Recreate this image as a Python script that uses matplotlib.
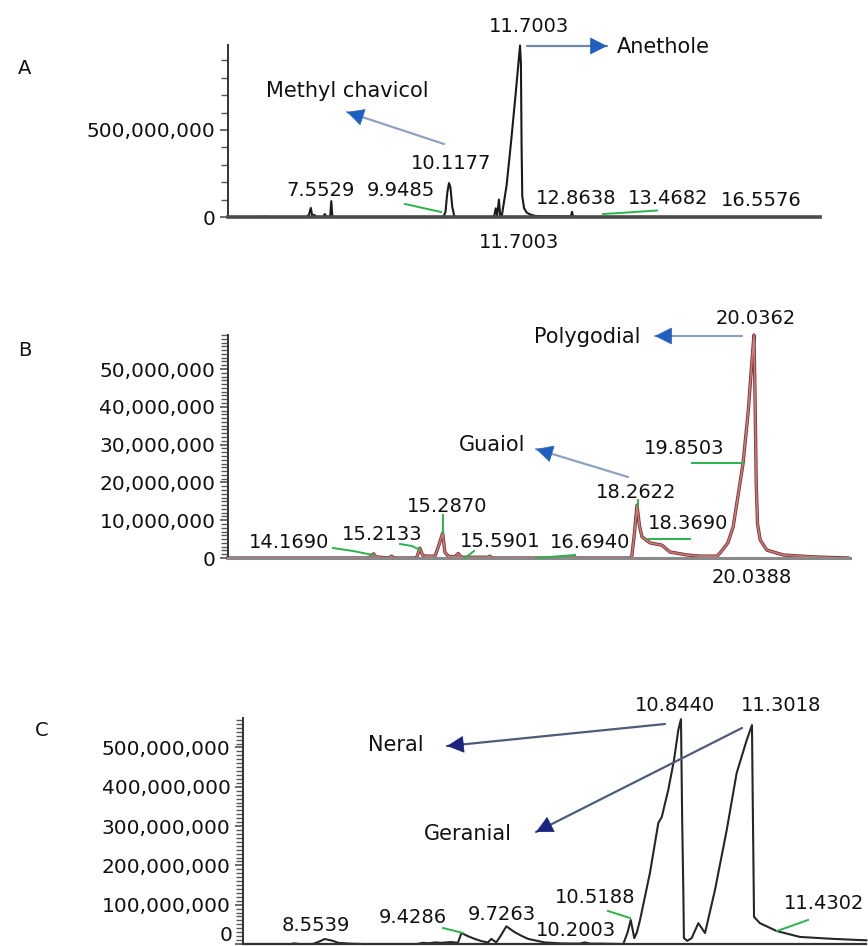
import matplotlib
matplotlib.use("Agg")
import matplotlib.pyplot as plt
from matplotlib.ticker import MultipleLocator, FuncFormatter
from matplotlib.patches import FancyArrowPatch
from matplotlib.lines import Line2D

plt.rcParams['font.family'] = ['DejaVu Sans']

W, H = 868, 946

# ---------------- data (retention time in min, intensity in millions) ----------------
# Panel A (anise: methyl chavicol / anethole)
a_time = [5.20, 5.85, 5.88, 5.91, 6.00, 6.03, 6.06, 6.95, 7.00, 7.04, 7.07, 7.12, 7.16,
          7.32, 7.35, 7.38, 7.47, 7.496, 7.52, 9.98, 10.00, 10.04, 10.08, 10.1177, 10.15,
          10.19, 10.23, 10.26, 11.12, 11.16, 11.19, 11.23, 11.26, 11.29, 11.40, 11.50,
          11.60, 11.67, 11.7003, 11.72, 11.735, 11.75, 11.79, 11.85, 11.95, 12.05, 12.30,
          12.70, 12.83, 12.86, 12.88, 13.00, 18.38]
a_signal = [0, 0, 3, 0, 0, 3, 0, 0, 15, 52, 8, 12, 0,
            0, 17, 3, 0, 91, 0, 0, 5, 30, 140, 195, 170,
            60, 10, 0, 0, 50, 8, 100, 5, 0, 180, 430,
            700, 900, 985, 880, 400, 120, 50, 25, 12, 6, 4,
            3, 3, 30, 2, 0, 0]

# Panel B (polygodial / guaiol)
b_time = [12.06, 14.20, 14.24, 14.27, 14.30, 14.50, 14.54, 14.58, 14.92, 14.97, 15.01,
          15.06, 15.20, 15.26, 15.316, 15.35, 15.40, 15.50, 15.55, 15.60, 16.00, 16.03,
          16.06, 18.18, 18.22, 18.262, 18.30, 18.338, 18.46, 18.64, 18.76, 19.02, 19.22,
          19.475, 19.52, 19.64, 19.72, 19.79, 19.87, 19.95, 20.00, 20.036, 20.05, 20.07,
          20.09, 20.13, 20.23, 20.48, 20.93, 21.46]
b_signal = [0, 0, 0.8, 1.1, 0.3, 0, 0.5, 0, 0, 2.6, 0.8,
            0.5, 0.5, 3.5, 6.6, 1.5, 0.5, 0.3, 1.2, 0.2, 0.2, 0.5,
            0, 0, 6, 14.0, 8.5, 5.6, 4.0, 3.4, 1.6, 0.8, 0.5,
            0.5, 1.3, 4.0, 8.2, 16, 25, 39, 51, 59, 45, 20,
            9, 4.8, 2.1, 0.8, 0.3, 0]

# Panel C (neral / geranial)
c_time = [8.02, 8.33, 8.35, 8.38, 8.47, 8.51, 8.547, 8.60, 8.633, 8.71, 8.80, 9.14, 9.18,
          9.22, 9.26, 9.30, 9.36, 9.406, 9.428, 9.47, 9.514, 9.56, 9.600, 9.621, 9.653,
          9.68, 9.718, 9.772, 9.82, 9.858, 9.965, 10.072, 10.19, 10.223, 10.26, 10.33,
          10.472, 10.50, 10.520, 10.543, 10.56, 10.580, 10.644, 10.698, 10.720, 10.762,
          10.799, 10.827, 10.844, 10.852, 10.859, 10.863, 10.885, 10.913, 10.956, 10.999,
          11.063, 11.139, 11.203, 11.268, 11.3018, 11.306, 11.315, 11.353, 11.461, 11.611,
          11.826, 12.00, 12.04]
c_signal = [0, 0, 1.5, 0, 0, 6, 12.7, 8, 3, 1, 0, 0, 3,
            2, 4, 3, 5, 3, 28, 20, 13, 7, 4, 13, 4,
            20, 45, 30, 20, 13, 4, 1.5, 1, 4, 1, 1,
            0, 30, 61, 15, 30, 61, 181, 308, 323, 392,
            468, 545, 572, 308, 138, 15, 8, 15, 53, 28,
            137, 290, 435, 519, 557, 392, 69, 53, 33, 18,
            13, 10, 9.5]

a_labels = ["11.7003", "10.1177", "7.5529", "9.9485", "12.8638", "13.4682", "16.5576"]
b_labels = ["20.0362", "18.2622", "18.3690", "19.8503", "16.6940", "15.5901", "15.2870",
            "15.2133", "14.1690"]
c_labels = ["10.8440", "11.3018", "10.5188", "11.4302", "10.2003", "9.7263", "9.4286", "8.5539"]

# ---------------- figure ----------------
fig = plt.figure(figsize=(W / 100, H / 100), dpi=100)
fig.patch.set_facecolor('white')

fmt = FuncFormatter(lambda v, p: f"{v:,.0f}")
fmt_no_zero = FuncFormatter(lambda v, p: "" if v == 0 else f"{v:,.0f}")


def make_axes(left, right, top, bottom, xlim, ylim, major, minor, base_color, base_lw,
              formatter=fmt):
    ax = fig.add_axes([left / W, 1 - bottom / H, (right - left) / W, (bottom - top) / H])
    ax.set_xlim(*xlim)
    ax.set_ylim(*ylim)
    for s in ('top', 'right'):
        ax.spines[s].set_visible(False)
    ax.spines['left'].set_color('#333333')
    ax.spines['left'].set_linewidth(1.4)
    ax.spines['bottom'].set_color(base_color)
    ax.spines['bottom'].set_linewidth(base_lw)
    ax.set_xticks([])
    ax.yaxis.set_major_locator(MultipleLocator(major))
    ax.yaxis.set_minor_locator(MultipleLocator(minor))
    ax.yaxis.set_major_formatter(formatter)
    ax.tick_params(axis='y', which='major', length=6, width=1.1, color='#444444',
                   labelsize=14.5, pad=3, labelcolor='#111111')
    ax.tick_params(axis='y', which='minor', length=5, width=1.0, color='#555555')
    ax.patch.set_alpha(0)
    return ax


def txt(x, y, s, size=14, ha='center', va='center'):
    fig.text(x / W, 1 - y / H, s, fontsize=size, ha=ha, va=va, color='#111111')


def arrow(x0, y0, x1, y1, line, head):
    p0 = (x0 / W, 1 - y0 / H)
    p1 = (x1 / W, 1 - y1 / H)
    fig.add_artist(FancyArrowPatch(p0, p1, transform=fig.transFigure, arrowstyle='-',
                                   color=line, lw=1.6, shrinkA=0, shrinkB=0))
    dx, dy = p1[0] - p0[0], p1[1] - p0[1]
    fig.add_artist(FancyArrowPatch((p1[0] - dx * 0.02, p1[1] - dy * 0.02), p1,
                                   transform=fig.transFigure,
                                   arrowstyle='-|>,head_length=0.75,head_width=0.38',
                                   mutation_scale=15, color=head, lw=0.5,
                                   shrinkA=0, shrinkB=0))


def green(pts):
    xs = [p[0] / W for p in pts]
    ys = [1 - p[1] / H for p in pts]
    fig.add_artist(Line2D(xs, ys, transform=fig.transFigure, color='#2bb24c', lw=1.4))


# ---------------- Panel A ----------------
axA = make_axes(228, 820, 45, 217, (5.195, 18.382), (0, 988e6), 500e6, 100e6, '#4a4a4a', 2.6)
axA.plot(a_time, [v * 1e6 for v in a_signal], color='#1a1a1a', lw=1.5, clip_on=False)

txt(18, 68, "A", 14, 'left')
txt(529, 27, a_labels[0])
txt(617, 47, "Anethole", 15, 'left')
txt(347, 91, "Methyl chavicol", 15)
txt(451, 163, a_labels[1])
txt(321, 190, a_labels[2])
txt(401, 190, a_labels[3])
txt(576, 198, a_labels[4])
txt(668, 198, a_labels[5])
txt(761, 201, a_labels[6])
txt(519, 242, a_labels[0])
arrow(527, 46, 607, 46, '#6f86a6', '#1f5fbf')
arrow(444, 144, 347, 112, '#8ea2bd', '#1f5fbf')
green([(405, 204), (441, 212)])
green([(603, 214), (620, 213), (657, 210.5)])

# ---------------- Panel B ----------------
axB = make_axes(228, 850, 335, 558, (12.061, 21.492), (0, 59e6), 10e6, 1e6, '#8a8a8a', 2.2)
bvals = [v * 1e6 for v in b_signal]
axB.plot(b_time, bvals, color='#7a3434', lw=2.4, clip_on=False)
axB.plot(b_time, bvals, color='#c97a7a', lw=1.2, clip_on=False)

txt(18, 350, "B", 14, 'left')
txt(756, 318, b_labels[0])
txt(640, 337, "Polygodial", 15, 'right')
txt(492, 445, "Guaiol", 15)
txt(636, 492, b_labels[1])
txt(688, 523, b_labels[2])
txt(684, 448, b_labels[3])
txt(752, 577, "20.0388")
txt(590, 543, b_labels[4])
txt(500, 541, b_labels[5])
txt(447, 507, b_labels[6])
txt(382, 535, b_labels[7])
txt(289, 543, b_labels[8])
arrow(742, 336, 655, 336, '#8ea2bd', '#1f5fbf')
arrow(628, 477, 536, 449, '#8ea2bd', '#1f5fbf')
green([(333, 548), (353, 551), (373, 555)])
green([(400, 544), (412, 546), (420, 550)])
green([(443, 515), (443, 533)])
green([(465, 558), (474, 551)])
green([(536, 558), (575, 555)])
green([(638, 500), (638, 507)])
green([(648, 539), (690, 539)])
green([(692, 463), (743, 463)])

# ---------------- Panel C ----------------
axC = make_axes(243, 866, 718, 944, (8.020, 12.037), (0, 575e6), 100e6, 10e6, '#333333', 1.6,
                formatter=fmt_no_zero)
axC.plot(c_time, [v * 1e6 for v in c_signal], color='#262626', lw=1.5, clip_on=False)
# zero label of panel C sits at the very bottom edge of the picture
txt(233, 945, "0", 14.5, 'right', 'bottom')

txt(35, 731, "C", 14, 'left')
txt(675, 705, c_labels[0])
txt(781, 705, c_labels[1])
txt(396, 745, "Neral", 15)
txt(468, 834, "Geranial", 15)
txt(595, 897, c_labels[2])
txt(824, 903, c_labels[3])
txt(576, 930, c_labels[4])
txt(502, 914, c_labels[5])
txt(413, 917, c_labels[6])
txt(316, 925, c_labels[7])
arrow(665, 724, 447, 746, '#4d5c78', '#1a237e')
arrow(742, 728, 536, 832, '#4d5c78', '#1a237e')
green([(443, 928), (463, 933)])
green([(608, 911), (630, 918)])
green([(777, 931), (808, 920)])

fig.savefig("out.png", dpi=100)
